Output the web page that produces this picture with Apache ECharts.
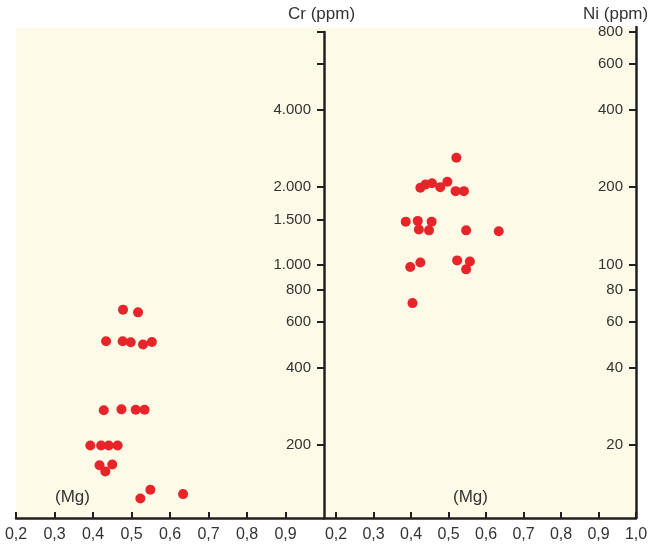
<!DOCTYPE html>
<html>
<head>
<meta charset="utf-8">
<script src="https://cdn.jsdelivr.net/npm/echarts@6/dist/echarts.min.js"></script>
<style>
  html, body { margin: 0; padding: 0; background: #ffffff; }
  #chart { width: 657px; height: 548px; }
</style>
</head>
<body>
<div id="chart"></div>
<script>
// Mg number (x) and Cr content in ppm (left panel)
const mgCr = [0.478, 0.517, 0.434, 0.477, 0.498, 0.530, 0.553, 0.428, 0.474, 0.511, 0.534,
              0.393, 0.421, 0.441, 0.464, 0.417, 0.450, 0.432, 0.549, 0.523, 0.634];
const crValues = [670, 654, 505, 505, 501, 491, 502, 273, 275, 274, 274,
                  199, 199, 199, 199, 167, 168, 158, 134, 124, 129];

// Mg number (x) and Ni content in ppm (right panel)
const mgNi = [0.521, 0.425, 0.439, 0.456, 0.478, 0.497, 0.519, 0.541, 0.386, 0.418, 0.455,
              0.421, 0.448, 0.547, 0.634, 0.398, 0.425, 0.523, 0.557, 0.547, 0.404];
const niValues = [260, 199, 205, 207, 200, 210, 193, 193, 147, 148, 147,
                  137, 136, 136, 135, 98, 102, 104, 103, 96, 71];

// Axis ticks and labels
const mgTicksLeft = [0.2, 0.3, 0.4, 0.5, 0.6, 0.7, 0.8, 0.9];
const mgTicksRight = [0.2, 0.3, 0.4, 0.5, 0.6, 0.7, 0.8, 0.9, 1.0];
const crTicks = [200, 400, 600, 800, 1000, 1500, 2000, 4000, 6000, 8000];
const crLabels = [200, 400, 600, 800, 1000, 1500, 2000, 4000];
const niTicks = [20, 40, 60, 80, 100, 200, 400, 600, 800];
const crRange = [104.2, 8000];
const niRange = [10.42, 836];

const ink = '#231f20';
const dotColor = '#e8242b';
const fontFamily = '"Liberation Sans", Arial, Helvetica, sans-serif';

const fmtMg = v => v.toFixed(1).replace('.', ',');
const fmtPpm = v => String(Math.round(v)).replace(/\B(?=(\d{3})+(?!\d))/g, '.');

function xAxisFor(gridIndex, min, ticks) {
  return {
    gridIndex, type: 'value', min, max: 1.0,
    axisLine: { show: true, lineStyle: { color: ink, width: 2.5 } },
    axisTick: { show: true, inside: true, length: 6, customValues: ticks,
                lineStyle: { color: ink, width: 2 } },
    axisLabel: { customValues: ticks, formatter: fmtMg, margin: 9,
                 color: '#333333', fontSize: 16, fontFamily },
    splitLine: { show: false }
  };
}

function yAxisFor(gridIndex, range, ticks, labels) {
  return {
    gridIndex, type: 'log', logBase: 10, position: 'right',
    min: range[0], max: range[1],
    axisLine: { show: true, lineStyle: { color: ink, width: 2.5 } },
    axisTick: { show: true, inside: true, length: 7, customValues: ticks,
                lineStyle: { color: ink, width: 2 } },
    axisLabel: { inside: true, customValues: labels, formatter: fmtPpm, margin: 13,
                 color: '#333333', fontSize: 15, fontFamily },
    splitLine: { show: false },
    minorTick: { show: false }
  };
}

const chart = echarts.init(document.getElementById('chart'), null, { renderer: 'canvas' });

chart.setOption({
  animation: false,
  backgroundColor: '#ffffff',
  textStyle: { fontFamily },
  graphic: [
    { type: 'rect', z: -100, silent: true,
      shape: { x: 16, y: 28, width: 620, height: 490 },
      style: { fill: '#fefae8' } },
    { type: 'text', left: 288, top: 6,
      style: { text: 'Cr (ppm)', fill: '#333333', font: '17px ' + fontFamily } },
    { type: 'text', left: 583, top: 6,
      style: { text: 'Ni (ppm)', fill: '#333333', font: '17px ' + fontFamily } },
    { type: 'text', left: 55, top: 489,
      style: { text: '(Mg)', fill: '#333333', font: '17px ' + fontFamily } },
    { type: 'text', left: 453, top: 489,
      style: { text: '(Mg)', fill: '#333333', font: '17px ' + fontFamily } }
  ],
  grid: [
    { left: 16, top: 32, width: 308, bottom: 30 },
    { left: 324, top: 27, width: 312, bottom: 30 }
  ],
  xAxis: [
    xAxisFor(0, 0.2, mgTicksLeft),
    xAxisFor(1, 0.168, mgTicksRight)
  ],
  yAxis: [
    yAxisFor(0, crRange, crTicks, crLabels),
    yAxisFor(1, niRange, niTicks, niTicks)
  ],
  series: [
    {
      name: 'Cr', type: 'scatter', xAxisIndex: 0, yAxisIndex: 0,
      symbol: 'circle', symbolSize: 10,
      itemStyle: { color: dotColor, opacity: 1 },
      data: mgCr.map((m, i) => [m, crValues[i]])
    },
    {
      name: 'Ni', type: 'scatter', xAxisIndex: 1, yAxisIndex: 1,
      symbol: 'circle', symbolSize: 10,
      itemStyle: { color: dotColor, opacity: 1 },
      data: mgNi.map((m, i) => [m, niValues[i]])
    }
  ]
});
</script>
</body>
</html>
